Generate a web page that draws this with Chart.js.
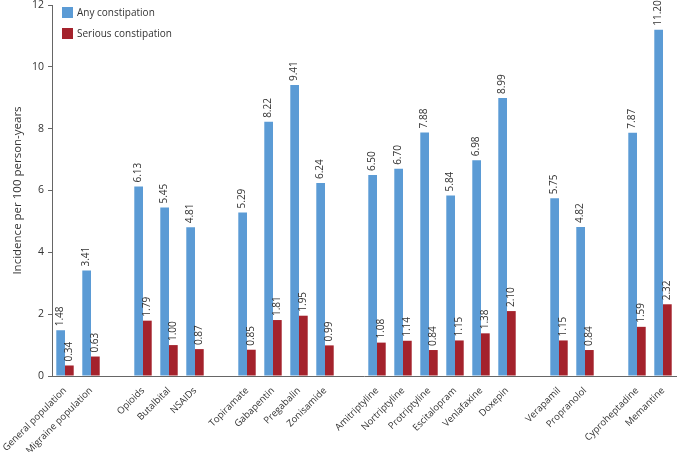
<!DOCTYPE html>
<html>
<head>
<meta charset="utf-8">
<script src="https://cdn.jsdelivr.net/npm/chart.js@4"></script>
<style>
  html, body { margin: 0; padding: 0; background: #fff; }
  #wrap { width: 680px; height: 452px; }
</style>
</head>
<body>
<div id="wrap"><canvas id="chart"></canvas></div>
<script>
// empty strings are the spacer slots between drug classes
const categories = [
  "General population", "Migraine population", "",
  "Opioids", "Butalbital", "NSAIDs", "",
  "Topiramate", "Gabapentin", "Pregabalin", "Zonisamide", "",
  "Amitriptyline", "Nortriptyline", "Protriptyline", "Escitalopram", "Venlafaxine", "Doxepin", "",
  "Verapamil", "Propranolol", "",
  "Cyproheptadine", "Memantine"
];
const anyConstipation = [
  1.48, 3.41, null,
  6.13, 5.45, 4.81, null,
  5.29, 8.22, 9.41, 6.24, null,
  6.50, 6.70, 7.88, 5.84, 6.98, 8.99, null,
  5.75, 4.82, null,
  7.87, 11.20
];
const seriousConstipation = [
  0.34, 0.63, null,
  1.79, 1.00, 0.87, null,
  0.85, 1.81, 1.95, 0.99, null,
  1.08, 1.14, 0.84, 1.15, 1.38, 2.10, null,
  1.15, 0.84, null,
  1.59, 2.32
];
const yTicks = [0, 2, 4, 6, 8, 10, 12];

const FONT = "'Open Sans', 'Noto Sans', sans-serif";
const TEXT = "#333";
const AXIS = "#666";

// rotated value labels above each bar
const valueLabels = {
  id: "valueLabels",
  afterDatasetsDraw(chart) {
    const ctx = chart.ctx;
    ctx.save();
    ctx.font = "10px " + FONT;
    ctx.fillStyle = TEXT;
    ctx.textAlign = "left";
    ctx.textBaseline = "middle";
    chart.data.datasets.forEach((ds, i) => {
      chart.getDatasetMeta(i).data.forEach((bar, j) => {
        const v = ds.data[j];
        if (v == null) return;
        ctx.save();
        ctx.translate(bar.x, bar.y - 4);
        ctx.rotate(-Math.PI / 2);
        ctx.fillText(v.toFixed(2), 0, 0);
        ctx.restore();
      });
    });
    ctx.restore();
  }
};

// legend sits inside the plot, top left
const insideLegend = {
  id: "insideLegend",
  afterDraw(chart) {
    const ctx = chart.ctx;
    ctx.save();
    ctx.font = "10px " + FONT;
    ctx.textBaseline = "middle";
    ctx.textAlign = "left";
    chart.data.datasets.forEach((ds, i) => {
      const y = 7 + i * 21;
      ctx.fillStyle = ds.backgroundColor;
      ctx.fillRect(62, y, 11, 11);
      ctx.fillStyle = TEXT;
      ctx.fillText(ds.label, 77, y + 6);
    });
    ctx.restore();
  }
};

new Chart(document.getElementById("chart"), {
  type: "bar",
  data: {
    labels: categories,
    datasets: [
      {
        label: "Any constipation",
        data: anyConstipation,
        backgroundColor: "#5b9bd5",
        categoryPercentage: 0.67,
        barPercentage: 1.0
      },
      {
        label: "Serious constipation",
        data: seriousConstipation,
        backgroundColor: "#a4222c",
        categoryPercentage: 0.67,
        barPercentage: 1.0
      }
    ]
  },
  options: {
    responsive: true,
    maintainAspectRatio: false,
    animation: false,
    layout: { padding: { top: 5, right: 4, left: 0, bottom: 0 } },
    plugins: {
      legend: { display: false },
      tooltip: { enabled: false }
    },
    scales: {
      x: {
        afterFit: (s) => { s.height = 76; s.paddingLeft = 0; s.paddingRight = 0; },
        grid: { display: false },
        border: { display: true, color: AXIS },
        ticks: {
          autoSkip: false,
          maxRotation: 45,
          minRotation: 45,
          padding: 1,
          color: TEXT,
          font: { family: FONT, size: 9.5 }
        }
      },
      y: {
        min: 0,
        max: 12,
        afterFit: (s) => { s.width = 52; s.paddingTop = 0; s.paddingBottom = 0; },
        afterBuildTicks: (axis) => { axis.ticks = yTicks.map(v => ({ value: v })); },
        grid: { display: true, drawOnChartArea: false, drawTicks: true, tickLength: 4, color: AXIS },
        border: { display: true, color: AXIS },
        ticks: {
          padding: 4,
          color: TEXT,
          font: { family: FONT, size: 10.5 }
        },
        title: {
          display: true,
          text: "Incidence per 100 person-years",
          color: TEXT,
          font: { family: FONT, size: 11.5 },
          padding: { top: 11, bottom: 0 }
        }
      }
    }
  },
  plugins: [valueLabels, insideLegend]
});
</script>
</body>
</html>
